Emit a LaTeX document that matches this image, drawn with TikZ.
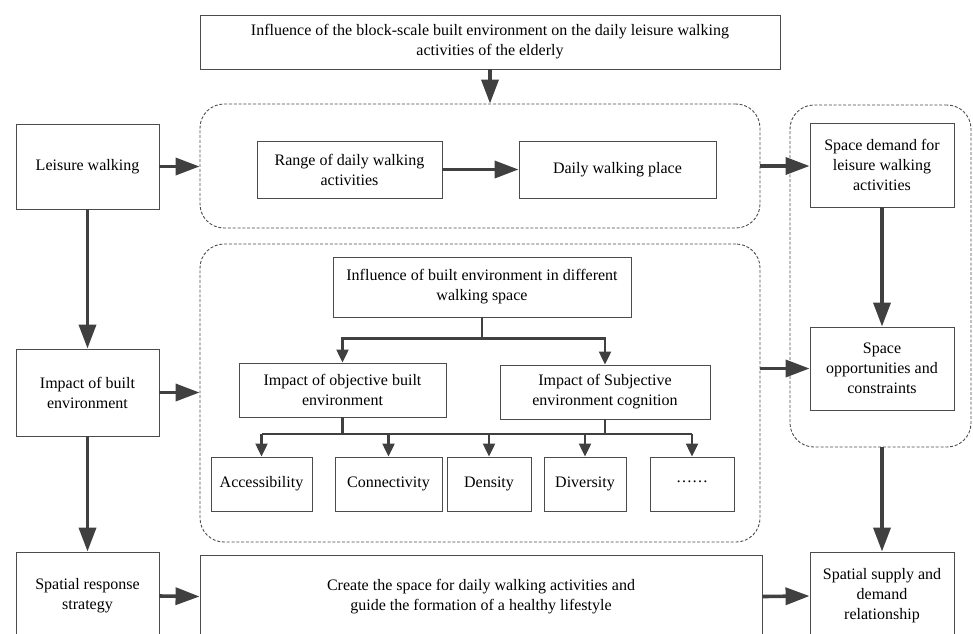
\documentclass[tikz,border=0pt]{standalone}
\usepackage{fontspec}
\setmainfont{Liberation Serif}
\usetikzlibrary{arrows.meta}

\begin{document}
\begin{tikzpicture}[
  x=1pt,y=-1pt,
  box/.style={rectangle,draw=black!70,line width=0.9pt,align=center,inner sep=2pt,
              font=\fontsize{16}{20}\selectfont},
  group/.style={rectangle,rounded corners=24pt,draw=black!70,line width=0.9pt,
                dash pattern=on 3pt off 1.8pt},
  arr/.style={-{Triangle[length=24pt,width=17pt]},line width=3.6pt,black!75},
  brarr/.style={-{Triangle[length=13pt,width=12pt]},line width=2.2pt,black!75},
  brline/.style={line width=2.2pt,black!75}
]
\useasboundingbox (0,0) rectangle (973,633);
\clip (0,0) rectangle (973,633);

% dashed groups
\node[group,minimum width=560pt,minimum height=124pt] (topg) at (480,166) {};
\node[group,minimum width=560pt,minimum height=298pt] (midg) at (480,393) {};
\node[group,minimum width=181pt,minimum height=342pt] (rightg) at (880.5,276) {};

% left column
\node[box,minimum width=143pt,minimum height=85pt] (lw) at (87.5,166.5) {Leisure walking};
\node[box,minimum width=143pt,minimum height=87pt] (ibe) at (87.5,392.5) {Impact of built\\environment};
\node[box,minimum width=143pt,minimum height=88pt] (srs) at (87.5,596) {Spatial response\\strategy};

% middle
\node[box,minimum width=580pt,minimum height=54pt] (top) at (490,42)
  {Influence of the block-scale built environment on the daily leisure walking\\activities of the elderly};
\node[box,minimum width=185pt,minimum height=57pt] (range) at (349.5,169.5) {Range of daily walking\\activities};
\node[box,minimum width=197pt,minimum height=57pt] (place) at (617.5,169.5) {Daily walking place};
\node[box,minimum width=298pt,minimum height=60pt] (infl) at (482,287)
  {Influence of built environment in different\\walking space};
\node[box,minimum width=207pt,minimum height=54pt] (obj) at (342.5,390) {Impact of objective built\\environment};
\node[box,minimum width=210pt,minimum height=54pt] (subj) at (605,392) {Impact of Subjective\\environment cognition};
\node[box,minimum width=101pt,minimum height=54pt] (acc) at (261.5,484) {Accessibility};
\node[box,minimum width=107pt,minimum height=54pt] (conn) at (388.5,484) {Connectivity};
\node[box,minimum width=84pt,minimum height=54pt] (dens) at (489,484) {Density};
\node[box,minimum width=82pt,minimum height=54pt] (div) at (585,484) {Diversity};
\node[box,minimum width=84pt,minimum height=54pt] (dots) at (692,484) {\raisebox{0.25em}{……}};
\node[box,minimum width=562pt,minimum height=83pt] (create) at (481,596.5)
  {Create the space for daily walking activities and\\guide the formation of a healthy lifestyle};

% right column
\node[box,minimum width=144pt,minimum height=84pt] (demand) at (882,165) {Space demand for\\leisure walking\\activities};
\node[box,minimum width=144pt,minimum height=83pt] (opp) at (882,368.5) {Space\\opportunities and\\constraints};
\node[box,minimum width=144pt,minimum height=88pt] (supply) at (882,596) {Spatial supply and\\demand\\relationship};

% arrows
\draw[arr] (top.south) -- (top.south |- topg.north);
\draw[arr] (lw.east) -- (lw.east -| topg.west);
\draw[arr] (lw.south) -- (ibe.north);
\draw[arr] (ibe.east) -- (ibe.east -| midg.west);
\draw[arr] (ibe.south) -- (srs.north);
\draw[arr] (srs.east) -- (create.west);
\draw[arr] (range.east) -- (place.west);
\draw[arr] (topg.east) -- (topg.east -| demand.west);
\draw[arr] (demand.south) -- (opp.north);
\draw[arr] (midg.east |- opp.west) -- (opp.west);
\draw[arr] (supply.north |- rightg.south) -- (supply.north);
\draw[arr] (create.east) -- (supply.west);

% branches
\draw[brline] (infl.south) -- ++(0,21) coordinate (sp1);
\draw[brarr] (sp1) -| (obj.north);
\draw[brarr] (sp1) -| (subj.north);
\coordinate (sp2) at (0,434);
\draw[brline] (obj.south) -- (obj.south |- sp2);
\draw[brline] (subj.south) -- (subj.south |- sp2);
\draw[brline] (acc.north |- sp2) -- (dots.north |- sp2);
\foreach \n in {acc,conn,dens,div,dots}
  \draw[brarr] (\n.north |- sp2) -- (\n.north);
\end{tikzpicture}
\end{document}
